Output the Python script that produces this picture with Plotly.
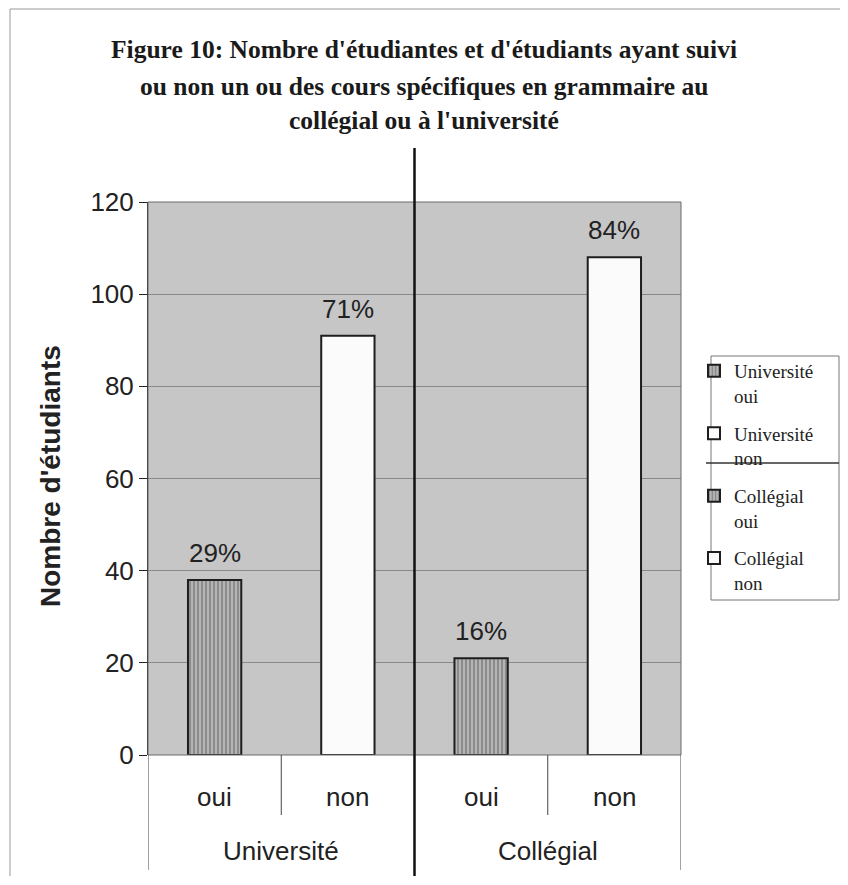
import plotly.graph_objects as go

groups = ["Université", "Université", "Collégial", "Collégial"]
answers = ["oui", "non", "oui", "non"]
values = [38, 91, 21, 108]
percents = ["29%", "71%", "16%", "84%"]
legend_names = ["Université<br>oui", "Université<br>non", "Collégial<br>oui", "Collégial<br>non"]
y_ticks = [0, 20, 40, 60, 80, 100, 120]

# target plot-area geometry in screenshot pixels; page body adds an 8px margin
OFF = 8
L, R, T, B = 148, 681, 202, 755
W, H = 848 - 2 * OFF, 885 - 2 * OFF
def py(Y):
    return (B - Y) / (B - T)
def px(X):
    return (X - L) / (R - L)

SANS = "Liberation Sans"
SERIF = "Liberation Serif"

fig = go.Figure()
for i in range(4):
    striped = answers[i] == "oui"
    marker = dict(
        color="#b0b0b0" if striped else "#fbfbfb",
        line=dict(color="#1e1e1e", width=2),
    )
    if striped:
        marker["pattern"] = dict(shape="|", fgcolor="#5a5a5a", bgcolor="#b4b4b4", size=4, solidity=0.45)
    fig.add_trace(go.Bar(
        x=[i + 0.5], y=[values[i]], width=0.4,
        name=legend_names[i], marker=marker,
        legendgroup=str(i),
    ))

fig.update_layout(
    width=W, height=H,
    margin=dict(l=L - OFF, r=W - (R - OFF), t=T - OFF, b=H - (B - OFF), autoexpand=False),
    paper_bgcolor="white", plot_bgcolor="#c6c6c6",
    barmode="overlay", showlegend=True,
    legend=dict(
        x=px(694), y=py(352), xanchor="left", yanchor="top",
        font=dict(family=SERIF, size=19, color="#222"),
        borderwidth=0, bgcolor="rgba(0,0,0,0)",
        valign="top", tracegroupgap=10, itemwidth=30,
    ),
    xaxis=dict(range=[0, 4], showticklabels=False, showgrid=False, zeroline=False,
               ticks="", showline=False, fixedrange=True),
    yaxis=dict(range=[0, 120], tickvals=y_ticks, showgrid=True, gridcolor="#8a8a8a", gridwidth=1,
               zeroline=False, ticks="outside", ticklen=8, tickcolor="#222",
               showline=True, linecolor="#222", linewidth=1,
               tickfont=dict(family=SANS, size=26, color="#222")),
)

shapes = []
shapes.append(dict(type="rect", xref="paper", yref="paper", x0=0, x1=1, y0=0, y1=1,
                   line=dict(color="#6a6a6a", width=1)))
shapes.append(dict(type="line", xref="x", yref="paper", x0=2, x1=2, y0=py(876), y1=py(148),
                   line=dict(color="#111", width=2.5)))
for xv in [0, 4]:
    shapes.append(dict(type="line", xref="x", yref="paper", x0=xv, x1=xv, y0=py(870), y1=0,
                       line=dict(color="#444", width=1)))
for xv in [1, 3]:
    shapes.append(dict(type="line", xref="x", yref="paper", x0=xv, x1=xv, y0=py(815), y1=0,
                       line=dict(color="#444", width=1)))
# figure frame (top and left edges visible in the scan)
shapes.append(dict(type="line", xref="paper", yref="paper", x0=px(10), x1=px(840), y0=py(9), y1=py(9),
                   line=dict(color="#999", width=1)))
shapes.append(dict(type="line", xref="paper", yref="paper", x0=px(10), x1=px(10), y0=py(876), y1=py(9),
                   line=dict(color="#999", width=1)))
# legend box
shapes.append(dict(type="rect", xref="paper", yref="paper", x0=px(711), x1=px(839), y0=py(600), y1=py(356),
                   line=dict(color="#777", width=1)))
# stray line through legend
shapes.append(dict(type="line", xref="paper", yref="paper", x0=px(706), x1=px(839), y0=py(463), y1=py(463),
                   line=dict(color="#333", width=1.5)))
fig.update_layout(shapes=shapes)

ann = []
for i in range(4):
    ann.append(dict(x=i + 0.5, y=values[i], xref="x", yref="y", text=percents[i], showarrow=False,
                    yanchor="bottom", yshift=10,
                    font=dict(family=SANS, size=26, color="#222")))
    ann.append(dict(x=i + 0.5, y=py(797), xref="x", yref="paper", text=answers[i], showarrow=False,
                    font=dict(family=SANS, size=26, color="#222"), yanchor="middle"))
for g, xc in [("Université", 1), ("Collégial", 3)]:
    ann.append(dict(x=xc, y=py(851), xref="x", yref="paper", text=g, showarrow=False,
                    font=dict(family=SANS, size=26, color="#222"), yanchor="middle"))
ann.append(dict(x=px(50), y=py(476), xref="paper", yref="paper", text="<b>Nombre d'étudiants</b>",
                textangle=-90, showarrow=False, xanchor="center", yanchor="middle",
                font=dict(family=SANS, size=28, color="#222")))
title_lines = ["Figure 10: Nombre d'étudiantes et d'étudiants ayant suivi",
               "ou non un ou des cours spécifiques en grammaire au",
               "collégial ou à l'université"]
for line, Y in zip(title_lines, [50, 86, 121]):
    ann.append(dict(x=px(424), y=py(Y), xref="paper", yref="paper", text="<b>" + line + "</b>",
                    showarrow=False, xanchor="center", yanchor="middle",
                    font=dict(family=SERIF, size=25.5, color="#1a1a1a")))
fig.update_layout(annotations=ann)

fig.write_html("out.html")
